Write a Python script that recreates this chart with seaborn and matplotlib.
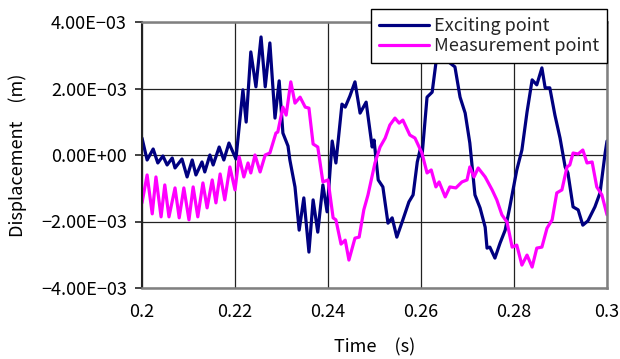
import matplotlib
matplotlib.use("Agg")
import matplotlib.pyplot as plt
import matplotlib.ticker as mticker
from matplotlib.lines import Line2D
import seaborn as sns
import pandas as pd

# ---- data (time in s, displacement in mm -> converted to m) ----
exc_t = [0.2000, 0.2011, 0.2024, 0.2034, 0.2045, 0.2054, 0.2065, 0.2071, 0.2086, 0.2097,
         0.2108, 0.2116, 0.2129, 0.2135, 0.2146, 0.2153, 0.2166, 0.2176, 0.2187, 0.2202,
         0.2217, 0.2224, 0.2234, 0.2245, 0.2256, 0.2265, 0.2275, 0.2286, 0.2295, 0.2303,
         0.2314, 0.2318, 0.2329, 0.2338, 0.2348, 0.2359, 0.2368, 0.2378, 0.2389, 0.2398,
         0.2409, 0.2417, 0.2430, 0.2437, 0.2447, 0.2458, 0.2469, 0.2482, 0.2495, 0.2499,
         0.2508, 0.2518, 0.2529, 0.2538, 0.2548, 0.2561, 0.2574, 0.2583, 0.2592, 0.2598,
         0.2602, 0.2613, 0.2624, 0.2634, 0.2647, 0.2662, 0.2673, 0.2684, 0.2695, 0.2705,
         0.2716, 0.2727, 0.2738, 0.2742, 0.2748, 0.2759, 0.2770, 0.2781, 0.2791, 0.2806,
         0.2817, 0.2828, 0.2839, 0.2849, 0.2860, 0.2867, 0.2877, 0.2888, 0.2899, 0.2910,
         0.2916, 0.2927, 0.2938, 0.2948, 0.2959, 0.2974, 0.2985, 0.2996, 0.3000]
exc_mm = [0.51, -0.15, 0.18, -0.24, -0.03, -0.30, -0.09, -0.39, -0.12, -0.66,
          -0.15, -0.60, -0.21, -0.51, 0.00, -0.30, 0.24, -0.15, 0.36, -0.12,
          1.96, 0.99, 3.10, 2.05, 3.55, 2.05, 3.37, 1.11, 2.23, 0.66,
          0.27, -0.15, -0.96, -2.26, -1.29, -2.92, -1.35, -2.32, -0.90, -1.71,
          0.42, -0.24, 1.53, 1.44, 1.77, 2.20, 1.26, 1.59, 0.24, 0.45,
          -0.75, -0.96, -2.05, -1.89, -2.47, -1.95, -1.41, -1.20, -0.21, 0.15,
          -0.06, 1.74, 1.89, 2.98, 3.16, 2.77, 2.65, 1.74, 1.26, 0.36,
          -1.20, -1.59, -2.17, -2.80, -2.77, -3.10, -2.65, -2.26, -1.56, -0.45,
          0.15, 1.29, 2.26, 2.11, 2.62, 2.02, 2.02, 1.20, 0.51, -0.36,
          -0.54, -1.56, -1.65, -2.11, -1.98, -1.56, -1.14, 0.06, 0.42]

mea_t = [0.2000, 0.2011, 0.2022, 0.2030, 0.2041, 0.2049, 0.2058, 0.2071, 0.2080, 0.2090,
         0.2101, 0.2110, 0.2120, 0.2131, 0.2140, 0.2151, 0.2159, 0.2168, 0.2178, 0.2189,
         0.2200, 0.2209, 0.2219, 0.2228, 0.2234, 0.2243, 0.2254, 0.2265, 0.2275, 0.2288,
         0.2292, 0.2303, 0.2310, 0.2320, 0.2329, 0.2340, 0.2351, 0.2359, 0.2368, 0.2378,
         0.2389, 0.2400, 0.2411, 0.2417, 0.2428, 0.2437, 0.2445, 0.2458, 0.2467, 0.2477,
         0.2486, 0.2501, 0.2512, 0.2523, 0.2533, 0.2544, 0.2553, 0.2561, 0.2576, 0.2587,
         0.2602, 0.2613, 0.2622, 0.2632, 0.2639, 0.2652, 0.2662, 0.2675, 0.2688, 0.2699,
         0.2705, 0.2714, 0.2723, 0.2738, 0.2753, 0.2763, 0.2774, 0.2785, 0.2796, 0.2806,
         0.2817, 0.2828, 0.2839, 0.2849, 0.2860, 0.2871, 0.2882, 0.2892, 0.2903, 0.2914,
         0.2920, 0.2927, 0.2938, 0.2948, 0.2957, 0.2968, 0.2978, 0.2989, 0.3000]
mea_mm = [-1.44, -0.60, -1.77, -0.66, -1.86, -0.90, -1.86, -0.99, -1.89, -0.99,
          -1.95, -0.96, -1.86, -0.84, -1.59, -0.75, -1.44, -0.57, -1.35, -0.36,
          -1.05, -0.06, -0.66, -0.24, -0.54, 0.00, -0.51, 0.00, 0.06, 0.66,
          0.69, 1.44, 1.20, 2.20, 1.56, 1.74, 1.44, 1.41, 0.33, 0.24,
          -0.81, -0.75, -1.89, -1.95, -2.68, -2.56, -3.16, -2.50, -2.47, -1.65,
          -1.20, -0.24, 0.24, 0.51, 0.90, 1.11, 0.96, 1.05, 0.60, 0.51,
          0.06, -0.54, -0.45, -0.96, -0.81, -1.26, -0.96, -0.99, -0.81, -0.75,
          -0.36, -0.66, -0.39, -0.66, -1.05, -1.35, -1.80, -2.02, -2.77, -2.71,
          -3.31, -3.01, -3.37, -2.80, -2.77, -2.20, -1.95, -1.14, -1.05, -0.36,
          -0.30, 0.06, 0.03, 0.15, -0.24, -0.21, -0.96, -1.20, -1.80]

series_names = ["Exciting point", "Measurement point"]
series_colors = ["#000080", "#FF00FF"]
y_ticks = [-4e-3, -2e-3, 0.0, 2e-3, 4e-3]
x_ticks = [0.2, 0.22, 0.24, 0.26, 0.28, 0.3]
x_tick_labels = ["0.2", "0.22", "0.24", "0.26", "0.28", "0.3"]

df = pd.concat([
    pd.DataFrame({"Time": exc_t, "Disp": [v * 1e-3 for v in exc_mm], "Series": series_names[0]}),
    pd.DataFrame({"Time": mea_t, "Disp": [v * 1e-3 for v in mea_mm], "Series": series_names[1]}),
], ignore_index=True)

sns.set_theme(style="white")
plt.rcParams["font.family"] = ["Noto Sans CJK JP", "DejaVu Sans"]
plt.rcParams["lines.solid_joinstyle"] = "round"
plt.rcParams["lines.solid_capstyle"] = "round"

FS = 13

fig = plt.figure(figsize=(6.2, 3.59), dpi=100)
ax = fig.add_axes([142 / 620, 1 - 288 / 359, (607 - 142) / 620, (288 - 22) / 359])

sns.lineplot(data=df, x="Time", y="Disp", hue="Series", hue_order=series_names,
             palette=series_colors, linewidth=2.3, ax=ax, legend=False, sort=False)
for ln in ax.get_lines():
    ln.set_solid_joinstyle("round")

ax.set_xlim(0.2, 0.3)
ax.set_ylim(-4e-3, 4e-3)
ax.set_xticks(x_ticks)
ax.set_xticklabels(x_tick_labels)
ax.set_yticks(y_ticks)
ax.yaxis.set_major_formatter(mticker.FuncFormatter(lambda v, p: f"{v:.2E}".replace("-", "\u2212")))

ax.grid(True, color="#222222", linewidth=0.9)
ax.set_axisbelow(True)
for s in ["top", "right", "bottom"]:
    ax.spines[s].set_color("#808080")
    ax.spines[s].set_linewidth(1.8)
ax.spines["left"].set_color("#222222")
ax.spines["left"].set_linewidth(1.5)

ax.tick_params(axis="y", which="major", left=True, length=5, width=1.2, color="#222222",
               labelsize=FS, pad=6, labelcolor="black")
ax.tick_params(axis="x", which="major", bottom=False, length=0, labelsize=FS, pad=11,
               labelcolor="black")

ax.set_xlabel("Time\u3000(s)", fontsize=FS, color="black", labelpad=12)
ax.set_ylabel("Displacement\u3000(m)", fontsize=FS, color="black", labelpad=10)

handles = [Line2D([], [], color=c, linewidth=2.3) for c in series_colors]
leg = fig.legend(handles, series_names, loc="upper right",
                 bbox_to_anchor=(607 / 620, 1 - 9 / 359), bbox_transform=fig.transFigure,
                 fontsize=FS, frameon=True, fancybox=False, shadow=False,
                 edgecolor="black", framealpha=1.0, borderpad=0.45,
                 handlelength=2.8, handletextpad=0.25, labelspacing=0.12, borderaxespad=0)
leg.get_frame().set_linewidth(1.0)
leg.set_zorder(10)

fig.savefig("out.png", dpi=100)
